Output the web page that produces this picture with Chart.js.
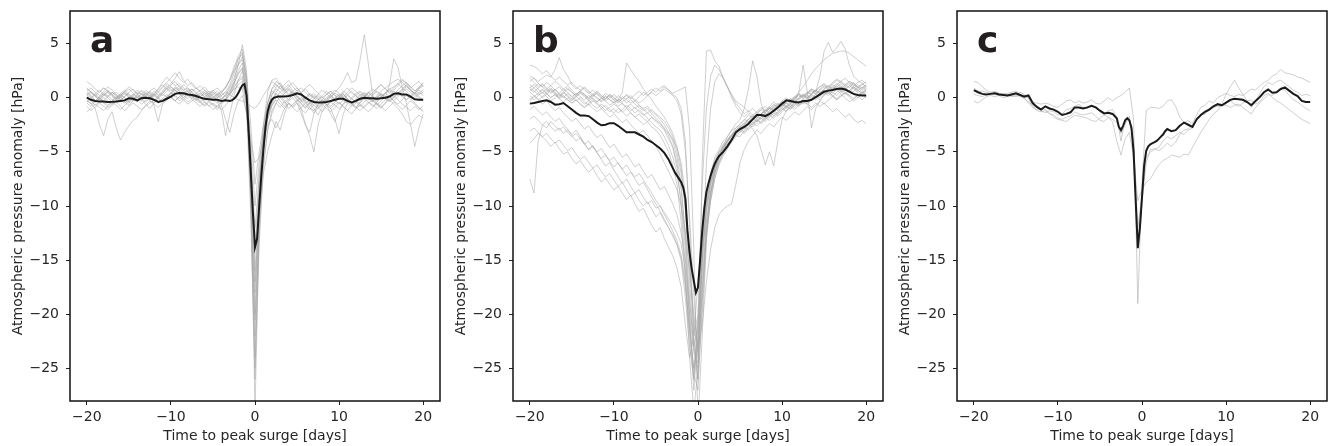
<!DOCTYPE html>
<html>
<head>
<meta charset="utf-8">
<script src="https://cdn.jsdelivr.net/npm/chart.js@4.4.0/dist/chart.umd.min.js"></script>
<style>
  html, body { margin: 0; padding: 0; background: #fff; }
  body { width: 1330px; height: 446px; position: relative; overflow: hidden; }
  .panel { position: absolute; top: 0; }
  .panel canvas { display: block; }
</style>
</head>
<body>
<div class="panel" style="left:0px"><canvas id="chartA" width="443" height="446"></canvas></div>
<div class="panel" style="left:443px"><canvas id="chartB" width="443" height="446"></canvas></div>
<div class="panel" style="left:887px"><canvas id="chartC" width="443" height="446"></canvas></div>
<script>
// time axis (days to peak surge), events sampled every 12 h
const days = [];
for (let d = -20; d <= 20; d += 0.5) days.push(d);

// composite mean sampled a bit finer around the peak
const meanDays = [];
for (let d = -20; d <= -3; d += 0.5) meanDays.push(d);
for (let d = -2.75; d <= 2.75; d += 0.25) meanDays.push(d);
for (let d = 3; d <= 20; d += 0.5) meanDays.push(d);

const xTicks = [-20, -10, 0, 10, 20];
const yTicks = [-25, -20, -15, -10, -5, 0, 5];

// composite means (hPa)
const meanA = [
  0.0, -0.2, -0.3, -0.35, -0.35, -0.4, -0.38, -0.35, -0.3, -0.25,
  -0.05, -0.1, -0.25, -0.05, 0.0, -0.05, -0.2, -0.4, -0.3, -0.1,
  0.1, 0.35, 0.42, 0.4, 0.3, 0.25, 0.15, 0.0, -0.1, -0.15,
  -0.2, -0.2, -0.3, -0.25, -0.3,
  -0.25, -0.1, 0.1, 0.4, 0.8, 1.15, 1.25, 0.2, -3.2, -6.9, -10.6, -13.8,
  -13.0, -10.0, -7.2, -4.8, -2.7, -1.3, -0.6, -0.2, 0.0, 0.05, 0.1,
  0.1, 0.1, 0.15, 0.25, 0.4, 0.3, 0.0, -0.25, -0.4, -0.45,
  -0.45, -0.4, -0.3, -0.2, -0.1, -0.1, -0.3, -0.45, -0.3, -0.1,
  0.0, -0.05, -0.05, -0.1, -0.05, 0.0, 0.1, 0.35, 0.4, 0.3,
  0.3, 0.1, -0.15, -0.2, -0.2
];
const meanB = [
  -0.55, -0.5, -0.4, -0.3, -0.25, -0.4, -0.65, -0.6, -0.5, -0.8,
  -1.1, -1.4, -1.65, -1.65, -1.7, -2.0, -2.3, -2.55, -2.5, -2.35,
  -2.35, -2.6, -2.9, -3.2, -3.2, -3.2, -3.4, -3.6, -3.9, -4.1,
  -4.4, -4.7, -5.1, -5.7, -6.5,
  -6.9, -7.2, -7.5, -7.8, -8.3, -9.3, -12.3, -14.3, -15.8, -16.9, -18.0, -17.5,
  -15.0, -12.3, -10.2, -8.7, -7.9, -7.2, -6.6, -6.1, -5.7, -5.4, -5.2,
  -5.0, -4.5, -3.9, -3.2, -2.9, -2.7, -2.4, -2.0, -1.6, -1.6,
  -1.7, -1.5, -1.2, -0.9, -0.55, -0.25, -0.3, -0.4, -0.45, -0.3,
  -0.3, -0.2, 0.05, 0.3, 0.55, 0.65, 0.7, 0.8, 0.85, 0.75,
  0.55, 0.35, 0.25, 0.2, 0.2
];
const meanC = [
  0.7, 0.5, 0.35, 0.3, 0.35, 0.4, 0.3, 0.25, 0.2, 0.3,
  0.4, 0.25, 0.1, 0.2, -0.5, -0.85, -1.1, -0.8, -1.0, -1.1,
  -1.3, -1.6, -1.5, -1.35, -0.9, -0.9, -1.0, -0.9, -0.75, -0.9,
  -1.2, -1.45, -1.4, -1.5, -1.9,
  -2.7, -3.0, -2.6, -2.1, -1.9, -2.1, -2.8, -5.0, -9.5, -13.9, -12.0, -9.2,
  -6.3, -4.9, -4.5, -4.3, -4.2, -4.1, -4.0, -3.8, -3.6, -3.4, -3.1,
  -2.9, -3.1, -3.0, -2.6, -2.3, -2.5, -2.7, -2.0, -1.6, -1.3,
  -1.1, -0.8, -0.6, -0.7, -0.45, -0.2, -0.1, -0.15, -0.2, -0.4,
  -0.7, -0.3, 0.05, 0.5, 0.75, 0.45, 0.5, 0.8, 0.95, 0.65,
  0.35, 0.15, -0.3, -0.4, -0.4
];

// individual events, panel a
const eventsA = [
  [0.5, 0.2, -0.3, 0.1, 0.4, 0.2, -0.2, 0.0, 0.3, 0.5,
   0.2, -0.1, 0.3, 0.6, 0.2, -0.3, -0.5, 0.1, 0.4, 0.8,
   1.2, 1.5, 1.0, 0.7, 0.9, 0.5, 0.2, 0.4, 0.1, -0.2,
   0.0, 0.3, -0.1, 0.2, 0.8, 1.5, 3.0, 4.9, 2.5, -8.0,
   -29.0, -12.0, -4.0, -1.0, 0.3, 0.8, 0.5, 0.9, 1.2, 0.6,
   0.9, 0.4, -0.3, -0.6, -0.2, -0.8, -0.5, -0.1, 0.2, -0.3,
   0.1, 0.4, -0.2, -0.6, -0.1, 0.3, 0.2, 0.5, 0.1, -0.2,
   0.1, 0.5, 0.8, 1.0, 1.3, 0.9, 0.6, 0.2, -0.1, 0.3,
   0.5],
  [1.5, 1.2, 0.8, 0.5, 0.9, 0.6, 0.3, 0.5, 0.2, 0.0,
   -0.3, 0.2, 0.5, 0.3, 0.0, -0.2, 0.3, 0.8, 1.4, 1.9,
   1.5, 1.1, 1.3, 0.9, 0.6, 0.8, 0.4, 0.1, 0.3, 0.6,
   0.4, 0.0, 0.2, 0.5, 1.2, 2.2, 3.5, 4.2, 1.5, -10.0,
   -26.0, -10.5, -3.5, -0.5, 0.8, 1.2, 0.9, 0.4, 0.7, 0.3,
   -0.2, -0.5, -0.9, -0.4, -0.7, -1.0, -0.6, -0.2, 0.1, 0.4,
   0.2, -0.3, -0.5, 0.0, 0.4, 0.6, 0.3, 0.0, -0.3, 0.2,
   0.6, 0.9, 1.2, 1.5, 1.7, 1.4, 1.1, 0.7, 0.3, 0.5,
   0.2],
  [-0.5, -0.8, -0.4, -0.1, -0.5, -0.9, -0.6, -0.3, 0.0, -0.4,
   -0.7, -0.3, 0.1, -0.2, -0.6, -1.0, -0.5, 0.0, 0.3, 0.1,
   0.4, 0.9, 0.6, 0.2, -0.1, 0.3, 0.0, -0.4, -0.7, -0.3,
   -0.6, -0.9, -0.5, -0.1, 0.5, 1.3, 2.5, 3.2, 1.0, -9.0,
   -24.0, -11.0, -5.0, -1.8, -0.4, 0.2, -0.3, -0.8, -0.3, 0.0,
   -0.5, -1.1, -1.4, -0.9, -1.2, -0.7, -0.3, -0.6, -1.0, -0.6,
   -0.4, -0.8, -1.2, -0.7, -0.3, -0.6, -0.9, -0.5, -0.2, -0.6,
   -0.9, -0.5, -0.1, 0.2, -0.2, -0.6, -0.9, -1.2, -0.8, -1.1,
   -0.8],
  [0.2, 0.0, 0.4, 0.7, 0.3, 0.1, 0.5, 0.2, -0.2, 0.1,
   0.5, 0.8, 0.4, 0.0, 0.3, 0.6, 0.2, -0.1, 0.4, 0.9,
   1.3, 1.8, 2.4, 1.6, 1.1, 1.4, 0.9, 0.6, 1.0, 0.5,
   0.2, -0.3, -1.2, -3.5, -1.5, 0.2, 1.6, 2.5, 0.8, -7.5,
   -22.0, -9.5, -4.5, -2.0, -0.6, 0.5, 1.1, 0.6, 0.9, 0.4,
   0.1, -0.4, -0.2, 0.3, 0.0, -0.5, -0.2, 0.3, 0.6, 0.2,
   0.0, 0.5, 0.9, 0.4, 0.2, -0.3, 0.1, 0.5, 0.3, 0.8,
   1.2, 0.8, 0.4, 0.7, 1.1, 1.6, 1.3, 0.9, 1.2, 1.5,
   1.0],
  [-0.3, -0.5, -1.0, -2.5, -3.5, -2.0, -1.3, -2.8, -3.9, -3.2,
   -2.6, -2.1, -1.8, -1.2, -0.8, -0.5, -0.2, -0.5, -0.3, 0.1,
   0.5, 0.2, -0.1, 0.3, 0.6, 0.2, -0.2, -0.5, -0.1, 0.2,
   -0.2, -0.5, -0.1, 0.3, 1.0, 1.8, 3.0, 3.8, 1.8, -6.0,
   -20.0, -8.5, -2.8, -0.5, 0.6, 0.3, 0.0, 0.4, 0.8, 0.3,
   -0.1, -0.6, -1.0, -0.5, -0.1, 0.2, -0.2, -0.7, -0.4, 0.0,
   0.3, 0.0, -0.4, -0.8, -0.5, -0.1, 0.2, -0.1, -0.4, 0.0,
   0.3, 0.0, -0.3, 0.1, 0.5, 0.2, -0.2, 0.1, 0.4, 0.7,
   0.4],
  [0.8, 0.5, 0.1, -0.2, 0.2, 0.6, 0.3, 0.0, 0.4, 0.7,
   0.3, -0.1, -0.4, 0.0, 0.4, 0.1, -0.3, 0.2, 0.6, 1.1,
   0.8, 0.4, 0.7, 1.2, 0.9, 0.5, 0.1, -0.3, 0.0, 0.4,
   0.1, -0.3, -0.6, -0.2, 0.3, 1.0, 1.6, 2.0, 0.2, -6.5,
   -18.0, -9.0, -3.5, -1.2, 0.2, 1.0, 1.4, 0.8, 0.3, 0.6,
   0.2, -0.3, -0.7, -1.1, -0.6, -0.2, 0.1, -0.4, -0.8, -0.4,
   0.0, 0.3, -0.1, -0.5, -0.9, -0.4, 0.0, 0.4, 0.1, -0.3,
   0.0, 0.4, 0.8, 0.5, 0.2, 0.6, 1.0, 0.7, 0.3, 0.0,
   -0.3],
  [-1.3, -1.0, -0.6, -0.9, -1.2, -0.8, -0.4, -0.7, -1.1, -0.7,
   -0.3, 0.1, -0.2, -0.6, -0.3, 0.1, 0.4, 0.0, -0.4, -0.1,
   0.3, 0.7, 0.4, 0.0, -0.4, -0.1, 0.3, 0.0, -0.4, -0.8,
   -0.5, -0.8, -1.1, -0.7, -0.2, 0.6, 1.2, 1.5, -0.5, -6.0,
   -16.0, -8.0, -3.8, -1.5, -0.3, 0.4, 0.0, -0.5, -0.2, 0.3,
   0.5, 0.1, -0.4, -0.8, -0.4, -0.9, -1.3, -0.8, -0.4, -0.7,
   -1.0, -0.6, -0.2, -0.5, -0.9, -1.2, -0.8, -0.4, -0.7, -1.0,
   -0.6, -0.2, 0.1, -0.3, -0.6, -0.2, 0.2, -0.1, -0.5, -0.9,
   -1.2],
  [0.3, 0.6, 0.2, -0.1, 0.3, 0.0, -0.4, -0.1, 0.2, 0.5,
   0.8, 0.4, 0.0, 0.3, 0.7, 0.4, 0.1, 0.5, 0.9, 1.3,
   1.0, 0.6, 0.9, 0.5, 0.2, 0.6, 0.9, 0.5, 0.1, 0.4,
   0.7, 0.3, 0.6, 1.0, 1.6, 2.4, 3.1, 3.5, 1.0, -5.0,
   -14.0, -7.0, -2.5, 0.5, 1.6, 1.8, 1.2, 0.7, 1.0, 1.4,
   0.9, 0.5, 0.8, 0.3, -0.1, 0.3, 0.7, 0.4, 0.0, 0.5,
   0.9, 1.5, 2.3, 1.4, 1.6, 3.5, 5.8, 3.0, 0.2, -0.6,
   -1.0, -0.5, 0.2, 0.6, 0.3, 0.8, 1.2, 0.7, 0.4, 0.9,
   1.3],
  [0.6, 0.9, 0.5, 0.2, 0.6, 1.0, 0.7, 0.3, 0.0, 0.4,
   0.1, -0.3, 0.0, 0.4, 0.1, -0.2, 0.2, 0.6, 1.0, 1.4,
   1.8, 2.3, 1.8, 1.4, 1.7, 1.2, 0.8, 1.1, 0.7, 0.3,
   0.6, 0.9, 0.5, 0.1, 0.4, 0.8, 1.0, 0.9, -1.5, -5.5,
   -12.0, -7.5, -4.0, -2.0, -0.8, 0.0, 0.5, 0.2, -0.2, 0.3,
   0.7, 0.4, 0.9, 1.2, 0.8, 0.4, 0.0, 0.3, 0.6, 0.2,
   -0.2, 0.1, 0.5, 0.9, 0.6, 0.2, -0.2, 0.1, 0.5, 0.9,
   1.2, 0.8, 0.5, 0.9, 1.3, 1.7, 1.4, 1.0, 0.6, 0.9,
   1.2],
  [-0.8, -1.2, -0.9, -0.5, -0.8, -1.1, -0.7, -0.4, -0.8, -1.2,
   -0.8, -0.5, -0.8, -1.1, -0.7, -0.3, -0.6, -0.9, -0.5, -0.2,
   0.1, -0.3, -0.6, -0.2, 0.2, -0.1, -0.5, -0.8, -0.4, -0.7,
   -1.1, -0.8, -0.4, -0.1, 0.4, 1.2, 2.2, 2.8, 0.5, -4.0,
   -10.0, -6.0, -3.0, -1.5, -0.7, -0.2, -0.6, -1.0, -0.5, -0.9,
   -1.3, -0.9, -0.5, -0.9, -1.4, -1.0, -0.6, -1.0, -1.3, -0.9,
   -0.5, -0.8, -1.2, -1.5, -1.0, -0.7, -1.0, -1.3, -0.9, -0.5,
   -0.8, -1.2, -0.8, -0.4, -0.7, -1.1, -0.7, -0.3, -0.6, -1.0,
   -1.3],
  [0.2, 0.5, 0.1, -0.2, 0.2, 0.5, 0.1, -0.2, 0.1, 0.4,
   0.0, 0.3, 0.7, 0.3, -0.1, 0.2, 0.6, 0.2, 0.5, 0.9,
   0.6, 1.0, 0.7, 0.3, 0.6, 0.2, -0.2, 0.1, 0.5, 0.1,
   -0.3, 0.0, 0.4, 0.9, 1.7, 2.8, 3.8, 4.5, 2.0, -2.5,
   -8.0, -5.0, -2.5, -0.5, 0.8, 1.5, 1.2, 0.6, 0.2, 0.5,
   0.2, -0.2, 0.1, -0.5, -1.0, -1.6, -0.8, -0.3, 0.0, -0.4,
   -0.1, 0.3, -0.1, -0.5, -0.2, 0.2, 0.5, 0.2, -0.2, 0.1,
   0.4, 0.1, -0.3, 0.0, 0.4, 0.8, 1.1, 0.7, 0.4, 0.8,
   1.1],
  [-0.2, -0.6, -0.3, 0.0, -0.4, -0.7, -0.3, 0.1, -0.2, -0.5,
   -0.1, 0.3, 0.0, -0.3, 0.1, 0.5, -0.8, -2.2, -0.6, -0.2,
   0.1, -0.3, 0.1, -0.2, -0.6, -0.3, 0.0, -0.4, -0.8, -0.4,
   -0.7, -1.1, -0.7, -2.0, -3.2, -1.5, -0.3, 0.2, -1.5, -4.0,
   -6.0, -5.5, -4.0, -2.5, -2.0, -2.8, -2.0, -1.0, -0.5, -0.9,
   -0.5, -1.5, -2.5, -3.2, -1.5, -0.6, -0.2, -0.6, -1.0, -2.0,
   -3.3, -1.5, -0.5, -0.1, -0.4, -0.8, -0.4, 0.0, -0.3, -0.7,
   -0.3, 0.1, -0.2, -0.6, -1.0, -1.5, -2.2, -2.5, -2.0, -1.6,
   -1.9],
  [0.9, 0.5, 0.2, 0.5, 0.9, 0.6, 0.2, -0.1, 0.2, 0.6,
   1.0, 0.7, 0.3, -0.1, 0.2, 0.6, 0.9, 0.5, 0.2, 0.6,
   1.0, 0.7, 0.3, 0.0, 0.4, 0.8, 0.5, 0.1, -0.3, 0.1,
   0.5, 0.2, -0.2, 0.2, 0.6, 1.4, 2.2, 2.7, -0.5, -9.0,
   -20.5, -12.5, -6.0, -3.0, -1.5, -0.5, 0.2, -0.3, -1.0, -0.6,
   -0.2, -1.0, -2.5, -3.5, -5.0, -2.5, -1.2, -0.6, -1.5, -2.2,
   -1.2, -0.6, -0.2, -0.6, -1.0, -0.5, -0.1, -0.4, -0.8, -0.4,
   0.0, 0.4, 0.1, -0.3, 0.1, 0.5, 0.8, 0.5, 0.1, 0.4,
   0.7],
  [-0.4, -0.1, 0.3, 0.0, -0.3, 0.1, 0.5, 0.2, -0.2, 0.1,
   0.4, 0.0, -0.3, 0.1, 0.5, 0.2, -0.1, -0.4, -0.1, 0.3,
   0.0, -0.3, 0.1, 0.4, 0.8, 0.4, 0.0, 0.3, 0.7, 0.3,
   0.0, 0.4, 0.1, -0.2, 0.2, 0.9, 1.5, 1.8, -1.0, -11.0,
   -25.0, -13.5, -6.5, -3.0, -1.2, -0.5, -0.9, -0.4, 0.0, 0.4,
   0.1, -0.3, 0.0, 0.4, 0.1, -0.2, 0.2, 0.6, 0.3, -0.1,
   0.2, 0.6, 0.3, -0.1, 0.2, 0.5, 0.1, -0.2, 0.2, 0.6,
   0.3, 0.0, 1.2, 3.6, 2.8, 1.0, -0.5, -2.5, -4.5, -2.8,
   -1.5],
  [0.4, 0.1, -0.3, 0.0, 0.4, 0.7, 0.3, -0.1, 0.3, 0.0,
   -0.4, -0.1, 0.3, 0.7, 0.4, 0.0, 0.4, 0.8, 1.2, 0.8,
   0.4, 0.8, 1.1, 0.7, 0.3, 0.0, 0.4, 0.7, 0.3, 0.0,
   0.3, 0.6, 0.2, 0.5, 0.3, 0.0, -0.2, -0.3, -0.5, -0.8,
   -1.0, -0.5, 0.2, 0.8, 1.5, 1.2, 0.8, 1.2, 1.6, 1.0,
   0.6, 0.9, 0.5, 0.1, 0.4, 0.0, -0.4, 0.0, 0.3, 0.7,
   0.4, 0.0, 0.3, 0.6, 0.2, -0.2, 0.1, 0.5, 0.8, 0.5,
   0.1, 0.4, 0.7, 0.3, 0.7, 1.1, 1.4, 1.0, 0.6, 1.0,
   1.4],
  [0.0, -0.3, -0.7, -0.4, 0.0, -0.3, -0.6, -0.2, 0.1, -0.2,
   -0.5, -0.2, 0.2, -0.1, -0.4, 0.0, 0.3, -0.1, -0.4, 0.0,
   0.4, 0.1, -0.3, 0.0, 0.4, 0.1, -0.3, 0.1, 0.5, 0.2,
   -0.2, 0.2, 0.5, 0.9, 1.6, 2.6, 3.6, 4.0, 1.5, -5.5,
   -17.0, -11.0, -7.0, -5.0, -3.5, -2.2, -3.0, -1.5, -0.5, -0.8,
   -0.3, 0.0, -0.5, -0.2, 0.2, -0.1, -0.5, -0.2, 0.2, -0.2,
   -0.6, -0.2, 0.2, -0.1, -0.4, 0.0, 0.4, 0.1, -0.3, 0.0,
   0.3, -0.1, -0.4, 0.0, 0.4, 0.1, -0.2, 0.2, 0.5, 0.1,
   -0.2]
];

// individual events, panel b
const eventsB = [
  [3.0, 2.9, 2.6, 2.2, 2.5, 2.0, 1.6, 1.9, 1.5, 1.2,
   1.4, 1.0, 0.7, 1.0, 0.6, 0.3, 0.6, 0.2, -0.1, 0.3,
   0.0, -0.3, 0.1, -0.2, -0.5, -0.3, -0.7, -1.0, -0.8, -1.3,
   -1.6, -2.0, -2.5, -3.2, -4.0, -5.5, -8.0, -13.0, -20.0, -27.0,
   -22.0, -14.0, -9.5, -7.0, -5.5, -4.8, -4.0, -3.6, -3.0, -2.8,
   -2.4, -2.0, -2.2, -1.8, -1.4, -1.6, -1.2, -0.9, -1.1, -0.7,
   -0.4, -0.6, -0.2, 0.1, -0.2, 0.2, 0.5, 0.3, 0.7, 1.0,
   1.2, 0.9, 1.3, 1.6, 1.4, 1.1, 1.5, 1.3, 0.9, 1.2,
   1.5],
  [2.0, 1.8, 1.5, 1.8, 2.1, 1.9, 2.6, 3.7, 2.6, 2.0,
   1.2, 0.8, 1.1, 0.7, 0.4, 0.7, 0.3, 0.0, 0.4, 0.1,
   -0.2, 0.2, -0.1, -0.5, -0.2, -0.6, -0.9, -1.2, -1.0, -1.5,
   -1.9, -2.3, -2.8, -3.5, -4.5, -6.5, -10.0, -16.0, -24.0, -29.0,
   -25.0, -15.0, -10.0, -7.5, -6.0, -5.0, -4.3, -3.8, -3.5, -3.1,
   -2.8, -2.5, -2.0, -1.7, -1.9, -1.5, -1.3, -1.0, -0.7, -0.9,
   -0.5, -0.2, -0.4, 0.0, 0.3, 0.1, 0.4, 0.8, 0.6, 1.0,
   1.3, 1.0, 1.4, 1.7, 1.5, 1.8, 1.4, 1.1, 1.4, 1.6,
   1.3],
  [1.5, 1.8, 1.3, 1.0, 1.4, 1.1, 0.7, 1.0, 0.6, 0.9,
   0.5, 0.2, 0.6, 0.3, -0.1, 0.3, 0.0, -0.3, 0.1, -0.2,
   -0.4, -0.2, 0.5, 3.2, 2.6, 2.0, 1.5, 0.8, 0.3, -0.2,
   -0.8, -1.3, -1.8, -2.5, -3.3, -4.5, -6.5, -10.5, -17.0, -23.0,
   -24.5, -17.0, -11.5, -8.5, -6.5, -5.5, -4.8, -4.0, -3.6, -3.2,
   -2.7, -2.4, -2.0, -2.3, -1.9, -1.5, -1.1, -1.4, -1.0, -0.6,
   -0.8, -0.4, -0.1, -0.4, 0.0, 0.3, 0.0, 0.4, 0.7, 0.4,
   0.8, 1.1, 0.7, 1.0, 1.3, 0.9, 0.6, 1.0, 0.7, 0.4,
   0.7],
  [0.8, 0.5, 0.9, 1.2, 0.8, 0.4, 0.7, 0.3, 0.0, 0.4,
   0.1, -0.3, 0.0, -0.4, -0.7, -0.3, -0.6, -1.0, -0.7, -1.1,
   -1.4, -1.0, -1.3, -1.7, -1.4, -1.8, -2.1, -2.5, -2.2, -2.7,
   -3.0, -3.5, -4.2, -5.0, -6.2, -8.0, -11.5, -17.0, -22.0, -26.0,
   -20.0, -13.0, -9.0, -7.0, -5.8, -5.0, -4.6, -4.0, -3.5, -3.0,
   -3.2, -2.6, -2.3, -1.9, -2.2, -1.8, -1.5, -1.8, -1.4, -1.0,
   -0.7, -1.0, -0.6, -0.3, 0.5, 3.0, 0.5, -2.8, -1.0, -0.3,
   0.3, 0.6, 0.2, -0.1, 0.3, 0.0, -0.4, -0.1, 0.2, -0.2,
   0.1],
  [0.5, 0.2, -0.2, 0.1, 0.5, 0.8, 0.4, 0.1, 0.5, 0.2,
   -0.1, 0.3, 0.6, 0.3, 0.0, 0.3, -0.1, -0.4, -0.1, 0.2,
   -0.2, -0.5, -0.1, 0.2, -0.1, 0.3, 0.6, 0.2, 0.5, 0.8,
   0.5, 0.9, 1.1, 0.7, 0.4, 0.6, 0.8, 1.0, -3.0, -14.0,
   -30.0, -22.0, -13.0, -9.0, -7.0, -5.5, -4.5, -4.0, -3.4, -2.8,
   -2.5, -2.1, -1.6, -1.9, -1.5, -1.1, -1.4, -1.0, -0.6, -0.9,
   -0.5, -0.2, -0.5, -0.1, 0.3, 0.0, 0.4, 0.7, 0.4, 0.8,
   1.1, 0.8, 1.2, 0.9, 0.6, 1.0, 1.3, 0.9, 0.6, 1.0,
   0.8],
  [1.0, 0.6, 0.3, 0.7, 0.4, 0.0, 0.3, -0.1, -0.4, 0.0,
   -0.3, 0.1, -0.2, -0.6, -0.3, -0.7, -1.0, -0.6, -0.9, -1.3,
   -1.0, -1.4, -1.1, -0.7, -1.0, -1.4, -1.1, -1.5, -1.9, -2.3,
   -2.7, -3.0, -3.6, -4.4, -5.5, -7.0, -9.5, -14.0, -21.0, -25.5,
   -27.0, -19.0, -12.5, -9.0, -7.0, -6.0, -5.2, -4.5, -3.8, -3.4,
   -3.0, -3.3, -2.8, -2.4, -2.0, -2.3, -1.9, -1.5, -1.2, -1.5,
   -1.1, -0.8, -1.0, -0.6, -0.3, -0.5, -0.1, 0.2, 0.0, 0.4,
   0.7, 0.4, 0.8, 1.1, 0.8, 1.2, 1.5, 1.2, 0.9, 1.3,
   1.0],
  [0.2, -0.2, 0.2, 0.5, 0.1, -0.3, 0.0, 0.4, 0.1, -0.2,
   -0.5, -0.2, -0.6, -0.9, -0.5, -0.2, -0.5, -0.8, -1.2, -0.9,
   -0.6, -0.9, -1.3, -1.0, -1.4, -1.8, -1.5, -1.9, -2.2, -1.8,
   -2.2, -2.6, -3.0, -3.8, -4.6, -6.0, -8.5, -12.5, -18.5, -23.0,
   -21.0, -14.5, -10.5, -8.0, -6.5, -5.6, -4.8, -4.2, -3.9, -3.5,
   -3.6, -3.0, -2.5, -2.9, -3.5, -4.8, -6.2, -5.0, -6.3, -4.0,
   -2.0, -1.2, -0.8, -1.1, -0.7, -0.4, -0.6, -0.2, 0.1, -0.2,
   0.2, 0.5, 0.2, -0.2, 0.1, 0.4, 0.1, -0.3, 0.0, 0.3,
   0.0],
  [1.8, 1.4, 1.0, 1.3, 0.9, 0.5, 0.8, 0.4, 0.8, 0.5,
   0.1, 0.4, 0.1, -0.2, 0.2, -0.1, -0.4, 0.0, -0.3, -0.7,
   -0.4, -0.8, -0.5, -0.9, -1.2, -0.9, -1.3, -1.6, -1.4, -1.8,
   -2.1, -2.4, -2.9, -3.3, -3.8, -4.6, -6.0, -9.0, -15.0, -21.0,
   -23.5, -18.0, -12.0, -8.8, -6.8, -5.5, -4.5, -3.6, -3.0, -2.4,
   -2.0, -1.0, 0.8, 3.4, 2.0, -0.5, -1.6, -1.3, -1.7, -1.3,
   -0.9, -1.2, -0.8, -0.4, -0.7, -0.3, 0.0, 0.3, 0.0, 0.4,
   0.7, 0.4, 0.1, 0.5, 0.8, 0.5, 0.2, 0.6, 0.9, 0.5,
   0.8],
  [-7.5, -8.8, -4.0, -2.5, -2.8, -2.2, -2.6, -3.0, -2.7, -3.2,
   -3.6, -3.3, -3.8, -4.3, -4.0, -4.6, -5.0, -4.7, -5.3, -5.8,
   -5.5, -6.1, -6.6, -6.2, -6.8, -7.3, -7.0, -7.6, -8.2, -8.8,
   -9.5, -10.0, -10.8, -11.5, -12.3, -13.2, -14.5, -17.0, -21.0, -25.0,
   -22.0, -15.0, -10.5, -8.0, -6.5, -5.4, -4.6, -4.0, -3.5, -3.0,
   -2.7, -2.3, -2.0, -1.6, -1.9, -1.5, -1.2, -0.9, -1.2, -0.8,
   -0.5, -0.8, -0.4, -0.1, 0.2, -0.1, 0.3, 0.6, 0.3, 0.7,
   1.0, 0.7, 1.0, 1.3, 1.0, 0.7, 1.1, 1.4, 1.0, 0.8,
   1.1],
  [-4.2, -3.8, -3.3, -3.6, -4.0, -4.5, -4.1, -4.7, -5.2, -5.0,
   -5.6, -6.1, -5.8, -6.4, -6.9, -6.5, -7.2, -7.8, -7.4, -8.0,
   -8.5, -8.2, -8.8, -9.4, -9.0, -9.8, -10.5, -10.2, -11.0, -11.8,
   -12.4, -12.0, -13.0, -13.8, -14.6, -15.7, -17.5, -21.0, -24.0, -22.0,
   -17.0, -12.5, -9.5, -7.6, -6.2, -5.2, -4.5, -3.9, -3.4, -3.0,
   -2.6, -2.9, -2.4, -2.0, -1.7, -2.0, -1.6, -1.2, -0.9, -1.2,
   -0.8, -0.5, -0.8, -0.4, -0.1, 0.2, -0.1, 0.3, 0.6, 0.2,
   0.5, 0.8, 0.5, 0.2, 0.6, 0.9, 0.6, 0.3, 0.0, 0.4,
   0.6],
  [-3.1, -2.8, -3.2, -3.6, -3.3, -3.8, -4.2, -3.9, -4.4, -4.9,
   -4.6, -5.2, -5.7, -5.4, -6.0, -6.5, -6.2, -6.8, -7.3, -7.0,
   -7.6, -8.2, -7.8, -8.5, -9.1, -8.8, -9.5, -10.0, -9.6, -10.3,
   -11.0, -10.6, -11.4, -12.0, -12.8, -13.6, -15.0, -18.5, -23.0, -26.0,
   -21.0, -14.0, -10.0, -7.8, -6.4, -5.5, -4.8, -4.1, -3.6, -3.2,
   -2.8, -3.2, -2.7, -2.3, -2.6, -2.2, -1.8, -2.1, -1.7, -1.3,
   -1.0, -1.3, -0.9, -0.5, -0.8, -0.4, -0.6, -0.9, -0.5, -0.8,
   -0.5, -0.9, -1.3, -1.0, -1.4, -1.8, -1.5, -2.0, -2.3, -2.1,
   -2.4],
  [-2.0, -1.7, -2.1, -2.5, -2.2, -2.7, -3.1, -2.8, -3.3, -3.0,
   -3.5, -4.0, -3.7, -4.3, -4.8, -4.5, -5.1, -5.6, -5.3, -5.9,
   -6.4, -6.0, -6.6, -7.2, -6.9, -7.5, -8.1, -7.8, -8.5, -9.2,
   -9.8, -10.5, -11.2, -12.0, -12.6, -13.5, -14.8, -17.5, -21.5, -25.0,
   -23.0, -16.0, -11.5, -8.8, -7.0, -5.8, -5.0, -4.4, -3.8, -3.4,
   -3.0, -2.6, -3.0, -2.5, -2.1, -2.4, -2.0, -1.6, -1.9, -1.5,
   -1.1, -0.8, -1.1, -0.7, -0.3, -0.6, -0.2, 0.1, -0.2, 0.2,
   0.5, 0.2, 0.6, 0.9, 0.6, 0.3, 0.7, 1.0, 0.7, 0.4,
   0.8],
  [-1.1, -0.8, -1.2, -1.6, -1.3, -1.8, -2.2, -1.9, -2.5, -2.9,
   -3.4, -3.0, -3.6, -4.2, -4.8, -4.4, -5.1, -5.7, -6.3, -6.0,
   -6.7, -7.3, -7.9, -7.5, -8.2, -8.8, -8.5, -9.2, -9.8, -9.5,
   -10.2, -10.0, -10.6, -11.2, -11.8, -12.5, -13.5, -16.0, -20.0, -23.5,
   -25.0, -18.0, -12.5, -9.5, -7.5, -6.2, -5.4, -4.7, -4.1, -3.6,
   -3.2, -2.8, -2.4, -2.7, -2.3, -1.9, -2.2, -1.8, -1.4, -1.7,
   -1.3, -0.9, -0.6, -0.9, -0.5, -0.2, -0.5, -0.1, 0.3, 0.0,
   0.4, 0.7, 0.4, 0.8, 1.1, 0.8, 0.5, 0.9, 1.2, 0.9,
   1.2],
  [-0.2, 0.2, -0.2, -0.6, -0.3, -0.8, -1.2, -0.9, -1.4, -1.8,
   -2.2, -1.9, -2.4, -2.9, -2.6, -3.2, -3.7, -3.4, -4.0, -4.6,
   -4.3, -4.9, -5.5, -5.2, -5.8, -6.4, -6.1, -6.8, -7.4, -7.1,
   -7.8, -8.5, -8.2, -9.0, -9.8, -10.8, -12.5, -15.0, -19.0, -23.0,
   -26.0, -20.0, -13.0, -9.5, -7.4, -6.0, -5.0, -4.3, -3.8, -3.3,
   -2.9, -2.5, -2.2, -2.5, -2.1, -1.7, -2.0, -1.6, -1.2, -0.9,
   -0.6, -0.9, -0.5, -0.2, -0.5, -0.1, 0.2, -0.1, 0.3, 0.6,
   0.3, 0.6, 1.0, 0.7, 0.4, 0.8, 1.1, 0.8, 0.5, 0.2,
   0.5],
  [1.2, 0.9, 0.5, 0.8, 0.4, 0.0, 0.3, -0.1, 0.2, -0.2,
   -0.5, -0.2, -0.6, -0.9, -0.6, -1.0, -1.3, -1.0, -1.4, -1.8,
   -1.5, -1.9, -2.3, -2.0, -2.5, -2.9, -3.3, -3.0, -3.5, -4.0,
   -4.5, -5.2, -6.0, -6.8, -7.6, -8.5, -10.0, -12.5, -16.0, -20.0,
   -23.0, -21.0, -17.0, -14.0, -12.0, -10.8, -10.3, -10.0, -9.8, -8.0,
   -6.0, -4.8, -4.0, -3.5, -3.0, -3.3, -2.8, -2.4, -2.7, -2.2,
   -1.8, -2.1, -1.7, -1.3, -1.6, -1.2, -0.8, -1.1, -0.7, -0.3,
   -0.6, -0.2, 0.1, -0.2, 0.2, 0.5, 0.2, -0.1, 0.2, 0.5,
   0.2],
  [0.6, 0.9, 1.3, 1.0, 0.6, 0.9, 0.5, 0.2, 0.5, 0.1,
   -0.2, 0.1, 0.4, 0.1, -0.3, 0.0, -0.4, -0.1, 0.2, -0.2,
   -0.5, -0.2, -0.6, -0.9, -0.6, -1.0, -0.7, -1.1, -1.4, -1.1,
   -1.5, -1.8, -2.2, -2.8, -3.6, -5.0, -7.0, -10.0, -15.0, -22.0,
   -26.0, -6.0, 4.3, 4.4, 3.4, 2.9, 1.8, 1.0, 0.3, -0.3,
   -0.6, -0.9, -1.3, -1.0, -1.4, -1.1, -0.8, -1.2, -0.8, -0.5,
   -0.8, -0.4, -0.1, -0.4, 0.0, 0.3, 0.0, 0.4, 0.7, 0.4,
   0.8, 1.1, 0.8, 1.2, 1.5, 1.2, 0.9, 1.3, 1.0, 0.7,
   1.0],
  [-0.3, 0.1, 0.4, 0.0, 0.3, 0.7, 0.3, 0.0, 0.4, 0.8,
   0.5, 0.1, 0.5, 0.2, -0.2, 0.2, 0.5, 0.2, -0.1, 0.3,
   0.0, -0.4, -0.1, 0.3, 0.0, -0.3, 0.1, 0.5, 0.2, 0.6,
   0.9, 0.6, 1.0, 0.7, 0.3, 0.0, -1.0, -4.0, -12.0, -22.0,
   -20.0, -8.0, -1.0, 2.0, 3.0, 2.6, 1.8, 1.0, 0.0, -0.8,
   -1.4, -1.8, -1.4, -1.8, -2.2, -1.8, -1.4, -1.0, -1.3, -0.9,
   -0.5, -0.8, -0.4, 0.0, 0.4, 0.1, 0.5, 0.8, 0.5, 2.0,
   4.3, 5.1, 4.2, 4.6, 5.2, 4.5, 3.0, 2.0, 1.6, 1.3,
   1.0],
  [0.9, 1.2, 0.8, 0.4, 0.8, 1.1, 1.5, 1.2, 0.8, 1.1,
   0.7, 0.3, 0.6, 0.9, 0.5, 0.1, 0.4, 0.0, -0.3, 0.0,
   0.3, -0.1, -0.4, -0.1, 0.2, -0.2, -0.5, -0.2, 0.2, 0.5,
   0.2, 0.5, 0.8, 0.5, 0.2, -0.3, -1.5, -5.0, -11.0, -18.0,
   -24.0, -15.0, -6.0, -1.0, 1.5, 2.2, 1.8, 1.0, 0.2, -0.5,
   -1.0, -1.5, -1.2, -1.6, -1.3, -0.9, -1.2, -0.8, -0.4, -0.7,
   -0.3, 0.0, -0.3, 0.1, 0.5, 1.0, 1.6, 2.2, 2.7, 3.1,
   3.5, 3.8, 4.1, 4.2, 4.3, 4.3, 4.1, 3.8, 3.5, 3.2,
   2.9]
];

// individual events, panel c
const eventsC = [
  [1.5, 1.4, 1.0, 0.7, 0.5, 0.6, 0.4, 0.3, 0.4, 0.5,
   0.6, 0.3, 0.2, 0.0, -0.4, -0.5, -0.6, -0.5, -0.6, -0.8,
   -0.9, -0.6, -0.3, -0.2, -0.5, -0.3, -0.5, -0.4, -0.2, -0.5,
   -0.6, -0.3, 0.0, -0.3, 0.0, 0.2, 0.5, 0.9, -2.0, -19.0,
   -8.0, -1.2, -0.9, -0.9, -1.0, -0.8, -0.3, -0.2, -0.8, -1.8,
   -2.3, -2.1, -2.4, -1.6, -0.9, -0.7, -0.3, -0.5, 0.0, 0.2,
   0.4, 0.2, 0.1, 0.3, 0.2, 0.5, 0.8, 0.7, 1.1, 1.4,
   1.6, 2.0, 2.2, 2.6, 2.3, 2.2, 2.1, 1.9, 1.8, 1.6,
   1.4],
  [-0.3, -0.5, -0.2, 0.1, 0.2, 0.1, 0.2, 0.0, 0.1, 0.2,
   0.1, 0.3, 0.0, -0.5, -0.9, -1.2, -1.3, -1.2, -1.5, -1.6,
   -1.9, -2.0, -1.8, -1.7, -1.3, -1.5, -1.6, -1.5, -1.4, -1.7,
   -2.1, -2.2, -1.8, -2.2, -4.0, -5.3, -3.8, -3.2, -5.5, -9.5,
   -8.5, -7.8, -7.5, -6.8, -6.2, -5.8, -5.6, -5.3, -5.4, -5.5,
   -5.2, -5.3, -4.6, -3.9, -3.2, -2.6, -2.0, -1.5, -1.2, -0.6,
   0.3, 1.0, 1.6, 0.9, 0.3, -0.3, -0.9, -0.4, 0.4, 1.0,
   1.4, 1.2, 1.5, 1.6, 1.3, 1.0, 0.7, 0.5, 0.2, 0.3,
   0.2],
  [0.9, 0.6, 0.6, 0.5, 0.4, 0.5, 0.4, 0.3, 0.2, 0.4,
   0.3, 0.5, 0.3, -0.1, -0.8, -1.1, -1.0, -1.1, -1.4, -1.8,
   -2.0, -2.1, -2.2, -1.9, -1.6, -1.7, -1.8, -1.9, -2.1, -2.2,
   -1.9, -1.6, -1.8, -2.0, -2.3, -3.3, -2.5, -1.7, -4.5, -13.5,
   -9.5, -6.0, -4.8, -4.7, -4.9, -4.6, -4.2, -4.5, -4.1, -3.4,
   -3.0, -2.9, -2.5, -2.0, -1.6, -1.5, -1.1, -0.9, -0.8, -0.7,
   -0.7, -0.9, -0.7, -0.6, -0.9, -1.2, -1.5, -0.9, -0.5, -0.1,
   0.3, 0.2, 0.5, 0.9, 0.7, 0.2, -0.2, -0.4, -0.7, -1.0,
   -1.2],
  [0.3, 0.2, 0.1, 0.3, 0.4, 0.3, 0.2, 0.4, 0.3, 0.1,
   0.2, 0.1, -0.1, -0.4, -0.7, -0.9, -1.2, -1.4, -1.2, -1.3,
   -1.6, -1.5, -1.1, -1.0, -0.8, -0.6, -0.9, -1.0, -0.7, -0.9,
   -1.3, -1.5, -1.2, -1.1, -1.8, -4.0, -2.0, -2.0, -4.0, -12.0,
   -9.0, -5.5, -5.0, -4.8, -4.6, -4.0, -3.6, -3.8, -3.5, -3.2,
   -3.4, -3.0, -2.8, -2.0, -1.5, -1.2, -1.0, -0.8, -0.7, -0.8,
   -0.5, -0.3, -0.6, -0.8, -0.5, -0.3, -0.2, -0.6, -0.4, 0.2,
   0.4, 0.0, -0.3, -0.5, -0.8, -1.1, -1.4, -1.7, -2.0, -2.2,
   -2.4]
];

const textColor = '#262626';
Chart.defaults.font.family = '"DejaVu Sans", sans-serif';
Chart.defaults.font.size = 14;
Chart.defaults.color = textColor;

const minus = v => String(v).replace('-', '\u2212');

// box round the plot area and the bold panel letter
const framePlugin = {
  id: 'frame',
  afterDraw(chart, args, opts) {
    const { ctx, chartArea: a } = chart;
    ctx.save();
    ctx.strokeStyle = '#111';
    ctx.lineWidth = 1.5;
    ctx.strokeRect(a.left, a.top, a.right - a.left, a.bottom - a.top);
    ctx.fillStyle = '#231f20';
    ctx.font = 'bold 36px "DejaVu Sans"';
    ctx.textBaseline = 'alphabetic';
    ctx.fillText(opts.letter, a.left + 20, a.top + 41);
    ctx.restore();
  }
};

function makeChart(canvasId, letter, mean, events) {
  const datasets = [{
    data: meanDays.map((d, i) => ({ x: d, y: mean[i] })),
    borderColor: '#1a1a1a',
    borderWidth: 2,
    order: 0,
    clip: 0
  }];
  events.forEach(ev => {
    datasets.push({
      data: days.map((d, i) => ({ x: d, y: ev[i] })),
      borderColor: 'rgba(165, 165, 165, 0.6)',
      borderWidth: 0.9,
      order: 1,
      clip: 0
    });
  });

  return new Chart(document.getElementById(canvasId), {
    type: 'line',
    data: { datasets },
    options: {
      responsive: false,
      animation: false,
      events: [],
      elements: { point: { radius: 0 }, line: { tension: 0 } },
      layout: { padding: { top: 11, right: 3, left: 0, bottom: 0 } },
      plugins: {
        legend: { display: false },
        tooltip: { enabled: false },
        frame: { letter }
      },
      scales: {
        x: {
          type: 'linear',
          min: -22,
          max: 22,
          afterBuildTicks: s => { s.ticks = xTicks.map(v => ({ value: v })); },
          afterFit: s => { s.height = 45; s.paddingLeft = 0; s.paddingRight = 0; },
          grid: { drawOnChartArea: false, drawTicks: true, tickLength: 4, tickColor: '#222', tickWidth: 1 },
          border: { display: false },
          ticks: { padding: 4, maxRotation: 0, color: textColor, callback: minus },
          title: { display: true, text: 'Time to peak surge [days]', color: textColor, padding: { top: 0, bottom: 1 } }
        },
        y: {
          type: 'linear',
          min: -28,
          max: 8,
          afterBuildTicks: s => { s.ticks = yTicks.map(v => ({ value: v })); },
          afterFit: s => { s.width = 70; s.paddingTop = 0; s.paddingBottom = 0; },
          grid: { drawOnChartArea: false, drawTicks: true, tickLength: 4, tickColor: '#222', tickWidth: 1 },
          border: { display: false },
          ticks: { padding: 7, color: textColor, callback: minus },
          title: { display: true, text: 'Atmospheric pressure anomaly [hPa]', color: textColor, padding: { top: 9.5, bottom: 0 } }
        }
      }
    },
    plugins: [framePlugin]
  });
}

makeChart('chartA', 'a', meanA, eventsA);
makeChart('chartB', 'b', meanB, eventsB);
makeChart('chartC', 'c', meanC, eventsC);
</script>
</body>
</html>
